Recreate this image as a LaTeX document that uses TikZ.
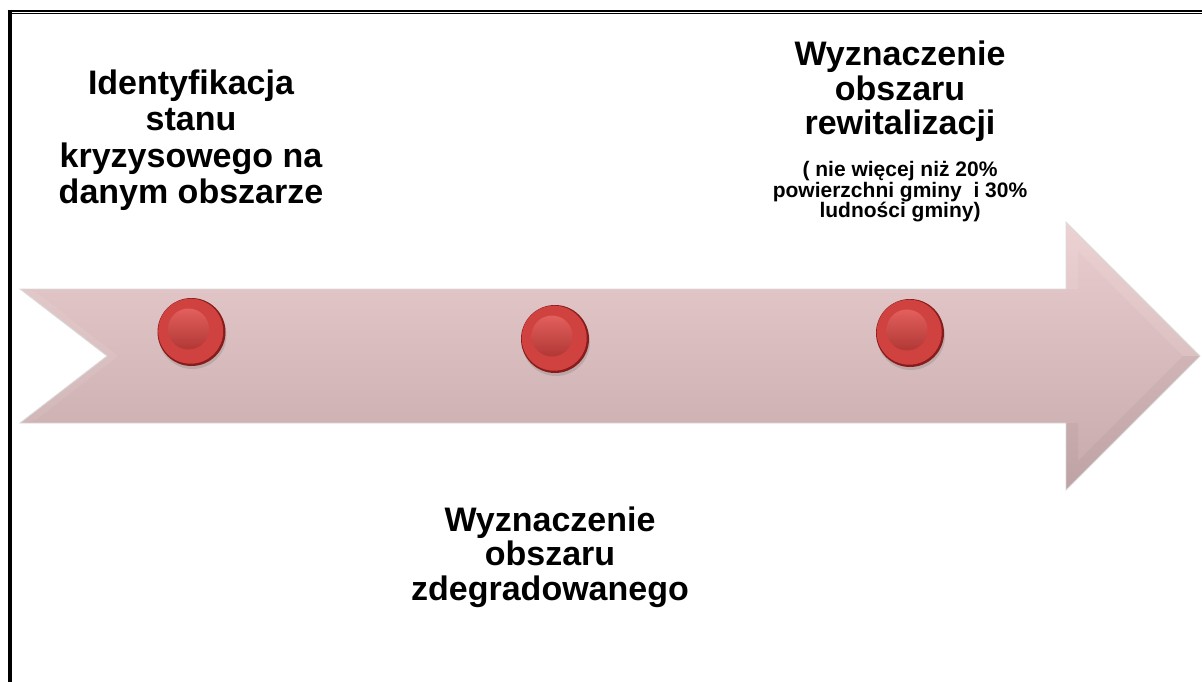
\documentclass[tikz,border=0pt]{standalone}
\usepackage{fontspec}
\setmainfont{Liberation Sans}
\usepackage{tikz}
\usetikzlibrary{positioning}
\usetikzlibrary{shadows}
\definecolor{arrowtop}{RGB}{234,205,206}
\definecolor{arrowbot}{RGB}{198,169,170}
\definecolor{dotred}{RGB}{208,66,63}
\definecolor{dotdark}{RGB}{135,28,27}
\definecolor{dotlight}{RGB}{226,95,92}

\begin{document}
\begin{tikzpicture}[x=1pt,y=-1pt,
			title/.style={align=center,inner sep=0pt,font=\bfseries\fontsize{34}{34.5}\selectfont},
			note/.style={align=center,inner sep=0pt,font=\bfseries\fontsize{21}{20.5}\selectfont},
			dot/.style={circle,minimum size=68pt,inner sep=0pt,fill=dotdark,
				drop shadow={shadow xshift=1pt,shadow yshift=-3pt,opacity=.3},
				path picture={
					\fill[dotred] ([xshift=-.8pt,yshift=.8pt]path picture bounding box.center) circle (32.5pt);
					\shade[top color=dotlight,bottom color=dotred!85!black] ([xshift=-3pt,yshift=3pt]path picture bounding box.center) circle (20.5pt);
				}}
			]
			\useasboundingbox (0,0) rectangle (1202,682);
			
			\draw[line width=2.3pt] (7.7,11.2) -- (1202,11.2);
			\draw[line width=1pt] (11.7,13.9) -- (1202,13.9);
			\draw[line width=4.3pt] (9.8,10) -- (9.8,682);
			
			\shade[top color=arrowtop,bottom color=arrowbot,draw=black!15,line width=.8pt]
				(20,289) -- (1066,289) -- (1066,222) -- (1200,356) -- (1066,490) -- (1066,423) -- (20,423) -- (107,356) -- cycle;
			\fill[white,opacity=.1] (1066,222) -- (1200,356) -- (1183,356) -- (1078,251) -- (1078,289) -- (1066,289) -- cycle;
			\fill[black,opacity=.03] (1066,490) -- (1200,356) -- (1183,356) -- (1078,461) -- (1078,423) -- (1066,423) -- cycle;
			\fill[white,opacity=.08] (20,289) -- (107,356) -- (20,423) -- (36,420) -- (118,356) -- (36,292) -- cycle;
			%\draw[red] (1066,222) -- (1066,490);
			
			\node[dot] (dot1) at (191.5,332) {};
			\node[dot] (dot2) at (555,339) {};
			\node[dot] (dot3) at (910,333) {};
			
			\node[title,font=\bfseries\fontsize{34}{36.5}\selectfont] (ident) at (191,140) {Identyfikacja\\stanu\\kryzysowego na\\danym obszarze};
			\node[title] (zdeg) at (550,557) {Wyznaczenie\\obszaru\\zdegradowanego};
			\node[title,anchor=north] (rew) at (900,40.7) {Wyznaczenie\\obszaru\\rewitalizacji};
			\node[note,below=19.6pt of rew] (rewnote) {( nie więcej niż 20\%\\powierzchni gminy\ \ i 30\%\\ludności gminy)};
		\end{tikzpicture}
\end{document}
